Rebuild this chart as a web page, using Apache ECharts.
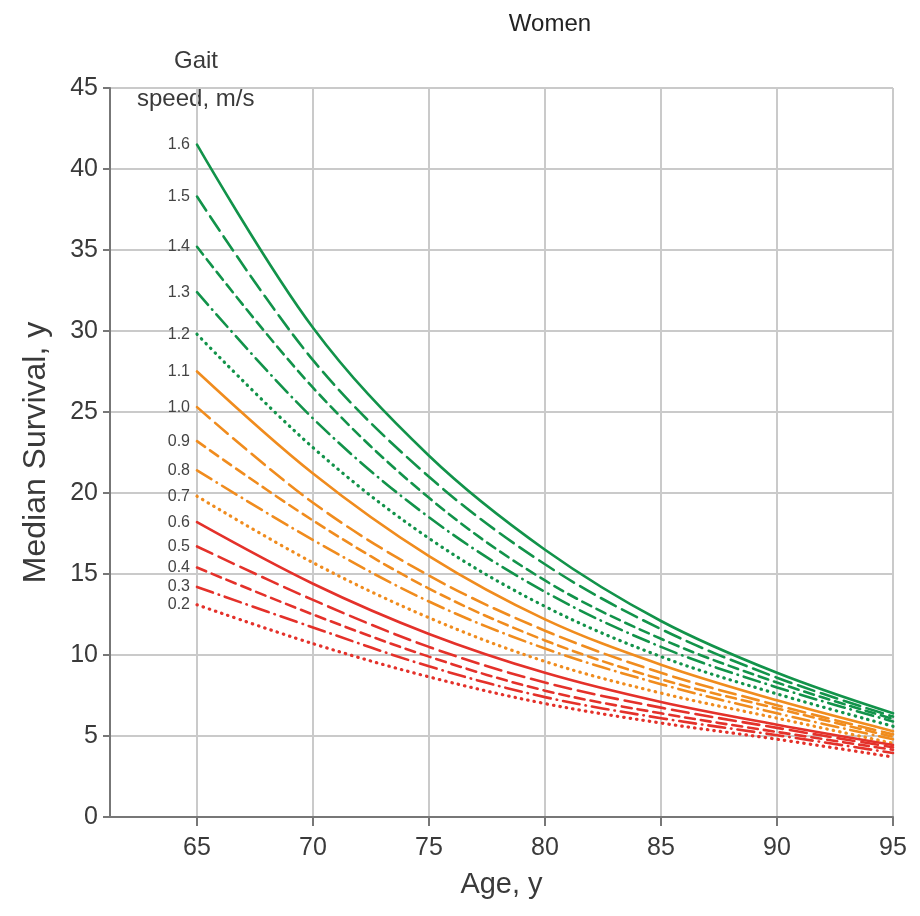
<!DOCTYPE html>
<html>
<head>
<meta charset="utf-8">
<title>Women - median survival by gait speed</title>
<script src="https://cdn.jsdelivr.net/npm/echarts@6/dist/echarts.min.js"></script>
<style>
  html, body { margin: 0; padding: 0; background: #fff; }
  #chart { width: 920px; height: 916px; }
</style>
</head>
<body>
<div id="chart"></div>
<script>
// ages along x (years)
const ages = [65, 70, 75, 80, 85, 90, 95];
const ageTicks = [65, 70, 75, 80, 85, 90, 95];

// median survival (y), one array per gait speed
const speed16 = [41.5, 30.2, 22.3, 16.5, 12.1, 8.9, 6.4];
const speed15 = [38.3, 28.2, 21.0, 15.6, 11.6, 8.6, 6.2];
const speed14 = [35.2, 26.5, 19.7, 14.6, 11.0, 8.3, 6.05];
const speed13 = [32.4, 24.6, 18.5, 13.9, 10.5, 8.0, 5.9];
const speed12 = [29.8, 22.8, 17.2, 13.0, 9.9, 7.6, 5.6];
const speed11 = [27.5, 21.2, 16.1, 12.2, 9.4, 7.2, 5.3];
const speed10 = [25.3, 19.4, 14.9, 11.5, 8.9, 6.9, 5.1];
const speed09 = [23.2, 18.3, 14.1, 10.9, 8.5, 6.7, 4.95];
const speed08 = [21.4, 17.1, 13.3, 10.4, 8.2, 6.4, 4.8];
const speed07 = [19.8, 15.7, 12.3, 9.6, 7.65, 6.1, 4.55];
const speed06 = [18.2, 14.4, 11.3, 8.9, 7.1, 5.7, 4.45];
const speed05 = [16.7, 13.4, 10.5, 8.3, 6.75, 5.5, 4.3];
const speed04 = [15.4, 12.5, 9.9, 7.8, 6.4, 5.25, 4.15];
const speed03 = [14.2, 11.7, 9.3, 7.4, 6.1, 5.05, 3.95];
const speed02 = [13.1, 10.7, 8.65, 7.0, 5.8, 4.8, 3.7];

const speedLabels = ["1.6", "1.5", "1.4", "1.3", "1.2", "1.1", "1.0", "0.9", "0.8", "0.7", "0.6", "0.5", "0.4", "0.3", "0.2"];
const speedValues = [speed16, speed15, speed14, speed13, speed12, speed11, speed10, speed09, speed08, speed07, speed06, speed05, speed04, speed03, speed02];

const GREEN = "#12934a";
const ORANGE = "#f08c1e";
const RED = "#e4312a";
const groupColors = [GREEN, ORANGE, RED];
// solid, long dash, short dash, dash-dot, dotted
const dashes = ["solid", [17, 7], [10, 6], [17, 6, 0.5, 6], [0.5, 6]];
const widths = [2.6, 2.6, 2.6, 2.6, 3.2];

const FONT = "'Liberation Sans', Arial, sans-serif";
const TEXT = "#3a3a3a";

const series = speedLabels.map(function (name, i) {
  const vals = speedValues[i];
  const data = ages.map(function (a, j) {
    if (j === 0) {
      return {
        value: [a, vals[j]],
        label: {
          show: true,
          position: "left",
          distance: 7,
          formatter: name,
          fontFamily: FONT,
          fontSize: 16,
          color: "#444",
        },
      };
    }
    return [a, vals[j]];
  });
  return {
    name: name,
    type: "line",
    data: data,
    smooth: 0.35,
    symbol: "circle",
    symbolSize: 0,
    showSymbol: true,
    silent: true,
    lineStyle: {
      color: groupColors[Math.floor(i / 5)],
      width: widths[i % 5],
      type: dashes[i % 5],
      cap: "round",
    },
  };
});

const chart = echarts.init(document.getElementById("chart"));
chart.setOption({
  animation: false,
  title: {
    text: "Women",
    left: 545,
    top: 7,
    textAlign: "center",
    textStyle: { fontFamily: FONT, fontSize: 24, fontWeight: "normal", color: "#222" },
  },
  graphic: [
    {
      type: "text",
      left: 174,
      top: 49,
      style: { text: "Gait", font: "24px " + FONT, fill: TEXT },
    },
    {
      type: "text",
      left: 137,
      top: 87,
      style: { text: "speed, m/s", font: "24px " + FONT, fill: TEXT },
    },
  ],
  grid: { left: 110, right: 27, top: 88, bottom: 99 },
  xAxis: {
    type: "value",
    min: 61.25,
    max: 95,
    name: "Age, y",
    nameLocation: "middle",
    nameGap: 53,
    nameTextStyle: { fontFamily: FONT, fontSize: 29, color: TEXT },
    axisLine: { show: true, lineStyle: { color: "#777", width: 2 } },
    axisTick: { show: true, length: 9, customValues: ageTicks, lineStyle: { color: "#777", width: 2 } },
    axisLabel: { customValues: ageTicks, margin: 19, fontFamily: FONT, fontSize: 25, color: TEXT },
    splitLine: { show: true, lineStyle: { color: "#cacaca", width: 2 } },
  },
  yAxis: {
    type: "value",
    min: 0,
    max: 45,
    interval: 5,
    name: "Median Survival, y",
    nameLocation: "middle",
    nameGap: 58,
    nameTextStyle: { fontFamily: FONT, fontSize: 32, color: TEXT },
    axisLine: { show: true, lineStyle: { color: "#777", width: 2 } },
    axisTick: { show: true, length: 7, lineStyle: { color: "#777", width: 2 } },
    axisLabel: { margin: 12, fontFamily: FONT, fontSize: 25, color: TEXT },
    splitLine: { show: true, lineStyle: { color: "#cacaca", width: 2 } },
  },
  series: series,
});
</script>
</body>
</html>
